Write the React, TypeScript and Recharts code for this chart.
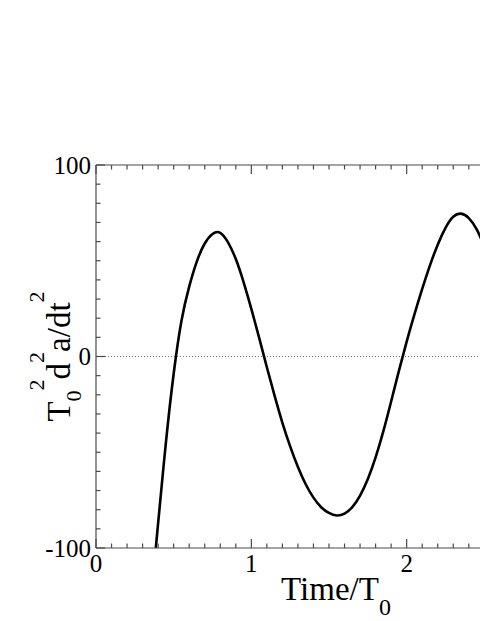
import { LineChart, Line, XAxis, YAxis, ReferenceLine, Label } from "recharts";

// time in units of T0
const times = [
  0.385, 0.4, 0.45, 0.5, 0.55, 0.6, 0.65, 0.7, 0.75, 0.8, 0.85, 0.9, 0.95,
  1.0, 1.05, 1.1, 1.15, 1.2, 1.25, 1.3, 1.35, 1.4, 1.45, 1.5, 1.55, 1.6,
  1.65, 1.7, 1.75, 1.8, 1.85, 1.9, 1.95, 2.0, 2.05, 2.1, 2.15, 2.2, 2.25,
  2.3, 2.35, 2.4, 2.45, 2.5, 2.55,
];
// T0^2 d2a/dt2
const accel = [
  -100, -87, -45, -9, 18.5, 36.5, 49.8, 59, 64, 64.6, 59.6, 50.9, 38.9,
  24.9, 9.9, -5.6, -20.6, -34.6, -46.9, -57.7, -66.7, -73.7, -78.7, -81.7,
  -83, -82, -78.7, -72.7, -64, -52.7, -39, -23.5, -7.5, 7.8, 22, 35.3, 47.6,
  58.4, 67.2, 73, 74.6, 72.3, 66.5, 57, 44,
];

const xTicks = [
  0, 0.1, 0.2, 0.3, 0.4, 0.5, 0.6, 0.7, 0.8, 0.9, 1, 1.1, 1.2, 1.3, 1.4, 1.5,
  1.6, 1.7, 1.8, 1.9, 2, 2.1, 2.2, 2.3, 2.4, 2.5, 2.6, 2.7, 2.8, 2.9, 3,
];
const xMajor = [0, 1, 2, 3];
const xLabels = [0, 1, 2];
const yTicks = [
  -100, -90, -80, -70, -60, -50, -40, -30, -20, -10, 0, 10, 20, 30, 40, 50,
  60, 70, 80, 90, 100,
];
const yMajor = [-100, 0, 100];

const data = times.map((t, i) => ({ t, a: accel[i] }));

const FONT = "'Liberation Serif', 'Times New Roman', serif";
const AXIS = "#4a4a4a";

const inList = (list: number[], v: number) =>
  list.some((m) => Math.abs(m - v) < 1e-6);

function XTick(props: any) {
  const { x, y, payload, side } = props;
  const major = inList(xMajor, payload.value);
  const len = major ? 9 : 4.5;
  const dir = side === "top" ? 1 : -1;
  return (
    <g>
      <line x1={x} x2={x} y1={y} y2={y + dir * len} stroke={AXIS} strokeWidth={1.2} />
      {side === "bottom" && inList(xLabels, payload.value) && (
        <text x={x} y={y + 24} textAnchor="middle" fontFamily={FONT} fontSize={25} fill="#000">
          {payload.value}
        </text>
      )}
    </g>
  );
}

function YTick(props: any) {
  const { x, y, payload, side } = props;
  const major = inList(yMajor, payload.value);
  const len = major ? 9 : 4.5;
  const dir = side === "left" ? 1 : -1;
  return (
    <g>
      <line x1={x} x2={x + dir * len} y1={y} y2={y} stroke={AXIS} strokeWidth={1.2} />
      {side === "left" && major && (
        <text x={x - 5} y={y} dy="0.35em" textAnchor="end" fontFamily={FONT} fontSize={25} fill="#000">
          {payload.value}
        </text>
      )}
    </g>
  );
}

function XTitle(props: any) {
  const { viewBox } = props;
  const cx = viewBox.x + viewBox.width / 2 + 7;
  return (
    <text x={cx} y={viewBox.y + 52} textAnchor="middle" fontFamily={FONT} fontSize={33} fill="#000">
      Time/T
      <tspan fontSize={24} dy={15}>0</tspan>
    </text>
  );
}

function YTitle(props: any) {
  const { viewBox } = props;
  const cx = viewBox.x - 25;
  const cy = viewBox.y + viewBox.height / 2;
  return (
    <text
      x={cx}
      y={cy}
      transform={`rotate(-90, ${cx}, ${cy})`}
      textAnchor="middle"
      fontFamily={FONT}
      fontSize={33}
      fill="#000"
    >
      T
      <tspan fontSize={22} dy={11}>0</tspan>
      <tspan fontSize={22} dy={-37}>2</tspan>
      <tspan dy={26}>d</tspan>
      <tspan fontSize={22} dy={-26}>2</tspan>
      <tspan dy={26}>a/dt</tspan>
      <tspan fontSize={22} dy={-26}>2</tspan>
    </text>
  );
}

export default function App() {
  return (
    <div
      style={{
        position: "absolute",
        left: 0,
        top: 0,
        width: 480,
        height: 621,
        overflow: "hidden",
        background: "#fff",
      }}
    >
      <LineChart
        width={600}
        height={621}
        data={data}
        margin={{ top: 164, right: 37, bottom: 72, left: 95 }}
      >
        <XAxis
          xAxisId="bottom"
          dataKey="t"
          type="number"
          domain={[0, 3]}
          ticks={xTicks}
          interval={0}
          height={1}
          tickSize={0}
          tickMargin={0}
          tick={<XTick side="bottom" />}
          axisLine={{ stroke: AXIS, strokeWidth: 1.2 }}
          tickLine={false}
          allowDataOverflow
        >
          <Label content={<XTitle />} />
        </XAxis>
        <XAxis
          xAxisId="top"
          orientation="top"
          dataKey="t"
          type="number"
          domain={[0, 3]}
          ticks={xTicks}
          interval={0}
          height={1}
          tickSize={0}
          tickMargin={0}
          tick={<XTick side="top" />}
          axisLine={{ stroke: AXIS, strokeWidth: 1.2 }}
          tickLine={false}
          allowDataOverflow
        />
        <YAxis
          yAxisId="left"
          type="number"
          domain={[-100, 100]}
          ticks={yTicks}
          interval={0}
          width={1}
          tickSize={0}
          tickMargin={0}
          tick={<YTick side="left" />}
          axisLine={{ stroke: AXIS, strokeWidth: 1.2 }}
          tickLine={false}
          allowDataOverflow
        >
          <Label content={<YTitle />} />
        </YAxis>
        <YAxis
          yAxisId="right"
          orientation="right"
          type="number"
          domain={[-100, 100]}
          ticks={yTicks}
          interval={0}
          width={1}
          tickSize={0}
          tickMargin={0}
          tick={<YTick side="right" />}
          axisLine={{ stroke: AXIS, strokeWidth: 1.2 }}
          tickLine={false}
          allowDataOverflow
        />
        <ReferenceLine
          xAxisId="bottom"
          yAxisId="left"
          y={0}
          stroke="#777"
          strokeWidth={1}
          strokeDasharray="1 2"
        />
        <Line
          xAxisId="bottom"
          yAxisId="left"
          type="natural"
          dataKey="a"
          stroke="#000"
          strokeWidth={2.6}
          dot={false}
          isAnimationActive={false}
        />
      </LineChart>
    </div>
  );
}
